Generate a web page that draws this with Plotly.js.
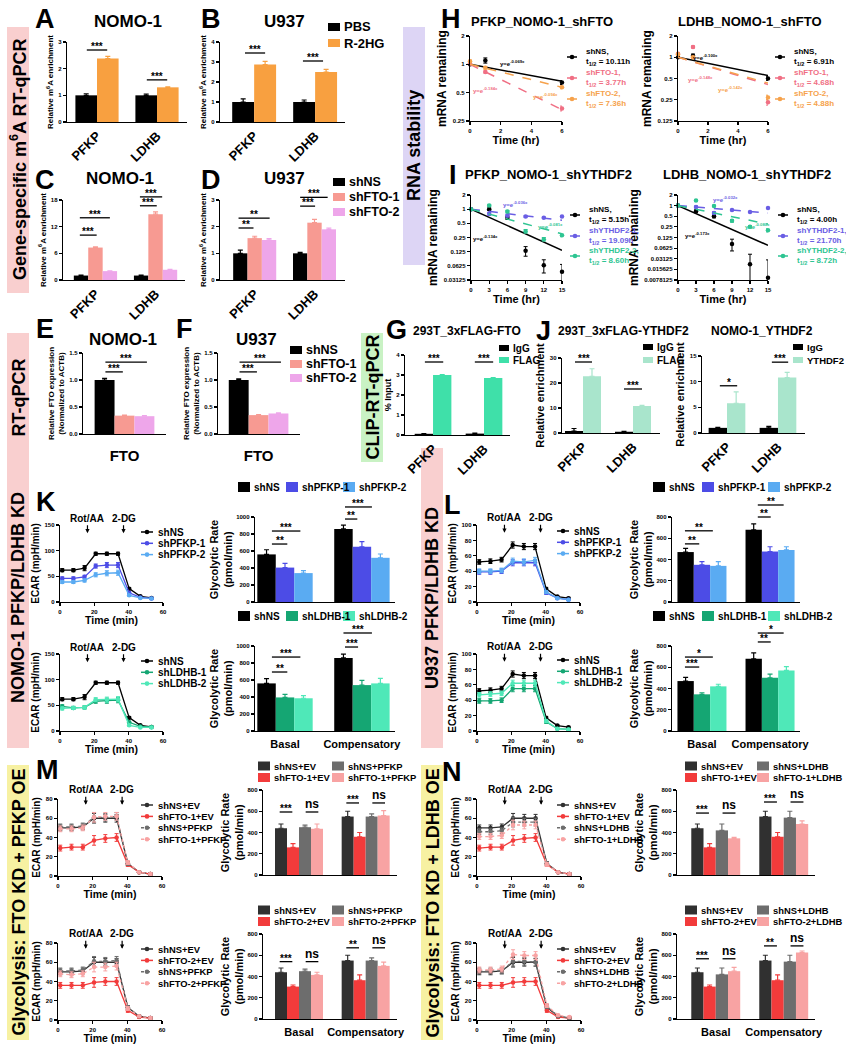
<!DOCTYPE html>
<html>
<head>
<meta charset="utf-8">
<script src="https://cdn.plot.ly/plotly-3.0.1.min.js"></script>
<style>html,body{margin:0;padding:0;background:#fff;}#fig{width:846px;height:1050px;}</style>
</head>
<body>
<div id="fig"></div>
<script>
// ---------- data ----------
// A, B: gene-specific m6A after R-2HG
const geneCats = ["PFKP", "LDHB"];
const aPBS = [1.0, 1.0];
const aPBSErr = [0.06, 0.05];
const aR2HG = [2.38, 1.3];
const aR2HGErr = [0.08, 0.02];
const bPBS = [1.0, 1.0];
const bPBSErr = [0.16, 0.1];
const bR2HG = [2.87, 2.5];
const bR2HGErr = [0.16, 0.13];
// C, D: m6A after FTO knockdown
const cShNS = [1.0, 1.0];
const cShNSErr = [0.1, 0.1];
const cShFTO1 = [7.3, 14.8];
const cShFTO1Err = [0.15, 0.55];
const cShFTO2 = [2.0, 2.3];
const cShFTO2Err = [0.05, 0.08];
const dShNS = [1.0, 1.0];
const dShNSErr = [0.12, 0.04];
const dShFTO1 = [1.57, 2.15];
const dShFTO1Err = [0.07, 0.12];
const dShFTO2 = [1.5, 1.9];
const dShFTO2Err = [0.05, 0.05];
// E, F: FTO expression
const ftoCats = ["FTO"];
const eShNS = [1.0], eShNSErr = [0.03];
const eShFTO1 = [0.34], eShFTO1Err = [0.01];
const eShFTO2 = [0.33], eShFTO2Err = [0.01];
const fShNS = [1.0], fShNSErr = [0.02];
const fShFTO1 = [0.35], fShFTO1Err = [0.01];
const fShFTO2 = [0.38], fShFTO2Err = [0.01];
// G, J: CLIP
const gIgG = [0.06, 0.07], gIgGErr = [0.01, 0.02];
const gFLAG = [3.0, 2.85], gFLAGErr = [0.02, 0.02];
const jIgG = [0.8, 0.5], jIgGErr = [1.0, 0.2];
const jFLAG = [22.7, 10.8], jFLAGErr = [3.0, 0.3];
const j2IgG = [1.0, 1.0], j2IgGErr = [0.1, 0.3];
const j2YTHDF2 = [5.8, 10.8], j2YTHDF2Err = [2.2, 1.0];

// H: RNA stability after shFTO
const hTime = [0, 1, 6];
const hFitTime = [0, 6];
const h1NS = [1.0, 1.1, 0.64], h1NSErr = [0.03, 0.07, 0.03], h1NSFit = [1, 0.66];
const h1FTO1 = [1.02, 0.83, 0.34], h1FTO1Err = [0.03, 0.02, 0.02], h1FTO1Fit = [1, 0.33];
const h1FTO2 = [1.08, 0.92, 0.57], h1FTO2Err = [0.03, 0.03, 0.02], h1FTO2Fit = [1, 0.57];
const h2NS = [1.0, 1.05, 0.5], h2NSErr = [0.02, 0.06, 0.03], h2NSFit = [1, 0.55];
const h2FTO1 = [1.12, 1.4, 0.23], h2FTO1Err = [0.03, 0.05, 0.02], h2FTO1Fit = [1, 0.41];
const h2FTO2 = [1.1, 1.0, 0.27], h2FTO2Err = [0.03, 0.03, 0.02], h2FTO2Fit = [1, 0.43];
const h1Rates = ["-0.069x", "-0.184x", "-0.094x"];
const h2Rates = ["-0.100x", "-0.148x", "-0.142x"];
const h1HalfLives = ["10.11h", "3.77h", "7.36h"];
const h2HalfLives = ["6.91h", "4.68h", "4.88h"];
const shFTONames = ["shNS", "shFTO-1", "shFTO-2"];
// I: RNA stability after shYTHDF2
const iTime = [0, 3, 6, 9, 12, 15];
const iFitTime = [0, 15];
const i1NS = [1.0, 1.0, 0.66, 0.13, 0.064, 0.047], i1NSFit = [1, 0.134];
const i1Y1 = [1.0, 0.8, 0.73, 0.7, 0.66, 0.7], i1Y1Fit = [1, 0.58];
const i1Y2 = [1.0, 1.2, 0.89, 0.34, 0.23, 0.28], i1Y2Fit = [1, 0.3];
const i2NS = [1.0, 0.69, 0.5, 0.082, 0.022, 0.009], i2NSFit = [1, 0.075];
const i2Y1 = [1.0, 0.92, 0.62, 0.75, 0.66, 0.86], i2Y1Fit = [1, 0.62];
const i2Y2 = [1.0, 1.39, 0.98, 0.37, 0.25, 0.2], i2Y2Fit = [1, 0.3];
const iErr = [0.03, 0.06, 0.05, 0.03, 0.02, 0.02];
const i1Rates = ["-0.134x", "-0.036x", "-0.081x"];
const i2Rates = ["-0.173x", "-0.032x", "-0.080x"];
const i1HalfLives = ["5.15h", "19.09h", "8.60h"];
const i2HalfLives = ["4.00h", "21.70h", "8.72h"];
const shYTHNames = ["shNS", "shYTHDF2-1", "shYTHDF2-2"];

// K-N: ECAR traces
const ecarTime = [1.3, 7.8, 14.3, 20.8, 27.3, 33.8, 40.3, 46.8, 53.3];
const injectionLabels = ["Rot/AA", "2-DG"];
const injectionTimes = [16, 37];
const kNS = [62, 62, 66, 94, 94, 94, 26, 11, 8];
const kNSErr = [3, 3, 5, 3, 3, 3, 2, 1, 1];
const kPFKP1 = [46, 46, 49, 70, 72, 72, 18, 9, 7];
const kPFKP2 = [39, 39, 42, 53, 56, 57, 13, 8, 7];
const kLDHB1 = [48, 45, 46, 58, 59, 60, 17, 9, 8];
const kLDHB2 = [44, 45, 46, 61, 61, 62, 11, 7, 7];
const kKdErr = [3, 3, 3, 4, 5, 5, 2, 1, 1];
const lNS = [52, 53, 55, 74, 72, 72, 17, 7, 5];
const lPFKP1 = [39, 39, 40, 51, 51, 51, 12, 5, 3];
const lPFKP2 = [40, 40, 41, 53, 52, 54, 13, 5, 3];
const lLDHB1 = [39, 39, 40, 55, 55, 55, 12, 3, 2];
const lLDHB2 = [47, 48, 49, 62, 62, 62, 13, 3, 2];
const lErr = [3, 3, 3, 4, 4, 4, 2, 1, 1];
const ovNSEV = [50, 50, 51, 60, 60, 60, 13, 4, 2];
const ovFTO1EV = [29, 30, 30, 37, 39, 40, 12, 4, 2];
const ovFTO2EV = [36, 36, 36, 39, 40, 40, 10, 3, 2];
const mNSPFKP = [51, 51, 52, 61, 61, 62, 13, 4, 2];
const mFTO1PFKP = [49, 49, 50, 61, 62, 62, 14, 4, 2];
const mFTO2PFKP = [48, 47, 48, 55, 55, 56, 12, 4, 2];
const nNSLDHB1 = [46, 46, 47, 56, 56, 56, 13, 4, 2];
const nFTO1LDHB = [41, 41, 42, 53, 53, 53, 12, 4, 2];
const nNSLDHB2 = [51, 51, 51, 61, 61, 60, 14, 4, 2];
const nFTO2LDHB = [52, 52, 53, 68, 67, 67, 15, 5, 3];
const ovErr = [3, 3, 3, 5, 4, 4, 2, 1, 1];

// K-N: glycolytic rate bars
const rateCats = ["Basal", "Compensatory"];
const kRateNS = [560, 860], kRateNSErr = [55, 45];
const kRatePFKP1 = [405, 650], kRatePFKP1Err = [50, 60];
const kRatePFKP2 = [340, 520], kRatePFKP2Err = [30, 45];
const kRateLDHB1 = [395, 540], kRateLDHB1Err = [35, 55];
const kRateLDHB2 = [385, 560], kRateLDHB2Err = [30, 60];
const lRateNS = [470, 680], lRateNSErr = [35, 55];
const lRatePFKP1 = [350, 475], lRatePFKP1Err = [30, 45];
const lRatePFKP2 = [340, 490], lRatePFKP2Err = [40, 30];
const lRateLDHB1 = [345, 500], lRateLDHB1Err = [15, 35];
const lRateLDHB2 = [420, 570], lRateLDHB2Err = [20, 35];
const ovRateNSEV = [440, 550], ovRateNSEVErr = [40, 50];
const ovRateFTO1EV = [260, 360], ovRateFTO1EVErr = [35, 40];
const ovRateFTO2EV = [305, 365], ovRateFTO2EVErr = [15, 50];
const mRateNSPFKP = [450, 550], mRateNSPFKPErr = [20, 25];
const mRateFTO1PFKP = [435, 560], mRateFTO1PFKPErr = [45, 45];
const mRateFTO2PFKP = [415, 500], mRateFTO2PFKPErr = [25, 35];
const nRateNSLDHB = [420, 540], nRateNSLDHBErr = [60, 60];
const nRateFTO1LDHB = [345, 480], nRateFTO1LDHBErr = [10, 30];
const nRateFTO2LDHB = [450, 625], nRateFTO2LDHBErr = [35, 15];

// significance marks: [from, to (category units), height, label]
const aSig = [[-0.17, 0.17, 2.7, "***"], [0.83, 1.17, 1.58, "***"]];
const bSig = [[-0.15, 0.18, 3.45, "***"], [0.8, 1.13, 3.05, "***"]];
const cSig = [[-0.26, 0.02, 10.1, "***"], [-0.26, 0.24, 14.0, "***"], [0.74, 1.02, 16.7, "***"], [0.74, 1.11, 18.7, "***"]];
const dSig = [[-0.27, -0.02, 1.95, "**"], [-0.27, 0.25, 2.32, "**"], [0.76, 1.01, 2.77, "***"], [0.76, 1.22, 3.1, "***"]];
const eSig = [[-0.23, -0.02, 1.15, "***"], [-0.23, 0.27, 1.33, "***"]];
const gSig = [[-0.16, 0.2, 3.65, "***"], [0.82, 1.18, 3.65, "***"]];
const jSig = [[-0.16, 0.18, 28.4, "***"], [0.82, 1.18, 17.6, "***"]];
const j2Sig = [[-0.14, 0.2, 9.2, "*"], [0.88, 1.2, 13.8, "***"]];
const kSigP = [[-0.17, 0.03, 682, "**"], [-0.17, 0.2, 835, "***"], [0.78, 0.94, 976, "**"], [0.78, 1.13, 1118, "***"]];
const kSigL = [[-0.17, 0.03, 694, "**"], [-0.17, 0.2, 870, "***"], [0.78, 0.95, 988, "***"], [0.76, 1.13, 1153, "***"]];
const lSigP = [[-0.25, -0.04, 547, "**"], [-0.25, 0.16, 670, "**"], [0.82, 1.01, 800, "**"], [0.82, 1.2, 913, "**"]];
const lSigL = [[-0.25, -0.04, 602, "***"], [-0.25, 0.16, 696, "*"], [0.82, 1.01, 838, "**"], [0.82, 1.2, 922, "*"]];
const m1Sig = [[-0.29, -0.1, 593, "***"], [0.1, 0.29, 593, "ns"], [0.71, 0.9, 678, "***"], [1.1, 1.29, 678, "ns"]];
const m2Sig = [[-0.29, -0.1, 540, "***"], [0.1, 0.29, 540, "ns"], [0.71, 0.9, 670, "**"], [1.1, 1.29, 670, "ns"]];
const n1Sig = [[-0.29, -0.1, 583, "***"], [0.1, 0.29, 583, "ns"], [0.71, 0.9, 687, "***"], [1.1, 1.29, 687, "ns"]];
const n2Sig = [[-0.29, -0.1, 567, "***"], [0.1, 0.29, 567, "ns"], [0.71, 0.9, 688, "**"], [1.1, 1.29, 688, "ns"]];

// ---------- helpers ----------
const FONT = "Liberation Sans, Arial, sans-serif";
const FIG_W = 846, FIG_H = 1050;
const PX = (x) => x / FIG_W;
const PY = (y) => 1 - y / FIG_H;
const f = (size, color = "#000") => ({ family: FONT, size, color, weight: "bold" });
const KEY = 9.4; // legend text size in K-N

const COL = {
  black: "#000000", orange: "#f8a040", salmon: "#f79a92", lilac: "#eea6ea",
  mint: "#3fe0a9", paleMint: "#a9e5cc", hPink: "#f06f84", hOrange: "#f6a24c",
  violet: "#6a5ee4", teal: "#2ec592", indigo: "#4c4ce6", sky: "#5aabf2",
  green: "#15a673", aqua: "#4fe8b8", dark: "#303030", red: "#f23b3b",
  gray: "#6d6d6d", rose: "#f8a3a3",
};

const traces = [];
const shapes = [];
const annotations = [];
const layout = {
  width: FIG_W, height: FIG_H,
  margin: { l: 0, r: 0, t: 0, b: 0 },
  paper_bgcolor: "#fff", plot_bgcolor: "rgba(0,0,0,0)",
  showlegend: false, barmode: "group", bargap: 0.28, bargroupgap: 0,
  font: { family: FONT, color: "#000" },
  shapes, annotations,
};

let axisCount = 0;
function baseAxis() {
  return {
    showline: true, linecolor: "#000", linewidth: 1.3, ticks: "outside", ticklen: 3,
    tickwidth: 1.1, tickcolor: "#000", showgrid: false, zeroline: false,
    tickfont: f(6), fixedrange: true,
  };
}
function addAxes(box, xo, yo) {
  axisCount += 1;
  const id = axisCount === 1 ? "" : String(axisCount);
  const [l, t, r, b] = box;
  layout["xaxis" + id] = Object.assign(baseAxis(), { domain: [PX(l), PX(r)], anchor: "y" + id }, xo);
  layout["yaxis" + id] = Object.assign(baseAxis(), { domain: [PY(b), PY(t)], anchor: "x" + id }, yo);
  return { xa: "x" + id, ya: "y" + id };
}

function txt(x, y, text, size, opt = {}) {
  annotations.push({
    xref: "paper", yref: "paper", x: PX(x), y: PY(y), text, showarrow: false,
    xanchor: opt.xa || "center", yanchor: opt.ya || "middle", align: opt.align || "left",
    textangle: opt.angle || 0, font: f(size, opt.color || "#000"),
  });
}
function sideLabel(x0, y0, x1, y1, fill, text) {
  shapes.push({ type: "rect", xref: "paper", yref: "paper", x0: PX(x0), x1: PX(x1), y0: PY(y1), y1: PY(y0), fillcolor: fill, line: { width: 0 }, layer: "below" });
  txt((x0 + x1) / 2, (y0 + y1) / 2, text, 18, { angle: -90 });
}
function squareKey(x, y, color, label, size, w = 12, h = 9) {
  shapes.push({ type: "rect", xref: "paper", yref: "paper", x0: PX(x), x1: PX(x + w), y0: PY(y + h / 2), y1: PY(y - h / 2), fillcolor: color, line: { width: 0 } });
  txt(x + w + 2, y, label, size, { xa: "left" });
}
function lineKey(x, y, color, dash, w = 12) {
  shapes.push({ type: "line", xref: "paper", yref: "paper", x0: PX(x), x1: PX(x + w), y0: PY(y), y1: PY(y), line: { color, width: 1.5, dash: dash || "solid" } });
  const cx = x + w / 2, r = 2.3;
  shapes.push({ type: "circle", xref: "paper", yref: "paper", x0: PX(cx - r), x1: PX(cx + r), y0: PY(y + r), y1: PY(y - r), fillcolor: color, line: { width: 0 } });
}
function sigMark(xa, ya, ymax, [a, b, v, label]) {
  const yf = v / ymax;
  shapes.push({ type: "line", xref: xa, yref: ya + " domain", x0: a, x1: b, y0: yf, y1: yf, line: { color: "#000", width: 1.3 } });
  annotations.push({
    xref: xa, yref: ya + " domain", x: (a + b) / 2, y: yf, text: label, showarrow: false,
    xanchor: "center", yanchor: "bottom", yshift: label === "ns" ? -1 : -4, font: f(label === "ns" ? 12 : 10),
  });
}

function barPanel(box, cats, series, o) {
  const { xa, ya } = addAxes(box,
    { type: "category", range: o.xr, ticks: "", showticklabels: o.showCats !== false,
      tickangle: o.angle ?? -45, tickfont: f(o.catSize ?? 13), ticklabelstandoff: o.catGap ?? 0 },
    { range: [0, o.ymax], tickvals: o.yt, tickformat: o.yfmt || "", tickfont: f(o.tickSize ?? 6),
      title: { text: o.ytitle, font: f(o.ytSize ?? 8), standoff: o.standoff ?? 3 } });
  series.forEach((s) => {
    traces.push({
      type: "bar", x: cats, y: s.y, xaxis: xa, yaxis: ya,
      marker: { color: s.color, line: { width: 0 } },
      error_y: { type: "data", symmetric: false, array: s.e, arrayminus: s.e.map(() => 0), color: s.color, thickness: 1.2, width: 2.5 },
    });
  });
  (o.sig || []).forEach((s) => sigMark(xa, ya, o.ymax, s));
}

function ecarPanel(box, series, o) {
  const { xa, ya } = addAxes(box,
    { range: [0, 60], tickvals: [0, 20, 40, 60], title: { text: "Time (min)", font: f(10.5), standoff: 3 } },
    { range: [0, o.ymax], tickvals: o.yt, title: { text: "ECAR (mpH/min)", font: f(10), standoff: 3 } });
  series.forEach((s) => {
    traces.push({
      type: "scatter", mode: "lines+markers", x: ecarTime, y: s.y, xaxis: xa, yaxis: ya, cliponaxis: false,
      line: { color: s.color, width: 1.3, dash: s.dash || "solid" },
      marker: { color: s.color, size: 4.5 },
      error_y: { type: "data", array: s.e, color: s.color, thickness: 1, width: 2 },
    });
  });
  injectionLabels.forEach((label, i) => {
    annotations.push({
      xref: xa, yref: ya, x: injectionTimes[i], y: o.arrowY, ax: 0, ay: -15, text: label,
      showarrow: true, arrowhead: 2, arrowsize: 0.7, arrowwidth: 1.2, arrowcolor: "#000", standoff: 0, font: f(10),
    });
  });
}

function decayPanel(box, o) {
  const { xa, ya } = addAxes(box,
    { range: [0, o.tmax], tickvals: o.xt, title: { text: "Time (hr)", font: f(11), standoff: 3 } },
    { type: "log", range: [Math.log10(o.ymin), Math.log10(2)], tickvals: o.yt, ticktext: o.yt.map(String),
      title: { text: "mRNA remaining", font: f(12), standoff: 3 } });
  o.series.forEach((s) => {
    traces.push({
      type: "scatter", mode: "lines", x: o.fitT, y: s.fit, xaxis: xa, yaxis: ya,
      line: { color: s.color, width: 1.5, dash: s.dash || "solid" },
    });
    traces.push({
      type: "scatter", mode: "markers", x: o.t, y: s.y, xaxis: xa, yaxis: ya, cliponaxis: false,
      marker: { color: s.color, size: 4.5 },
      error_y: { type: "data", array: s.e, color: s.color, thickness: 1, width: 2 },
    });
  });
}
function decayKeys(x, ys, names, halfs, colors) {
  names.forEach((n, i) => {
    lineKey(x, ys[i], colors[i], "solid", 10);
    txt(x + 17, ys[i], n + ",<br>t<sub>1/2</sub> = " + halfs[i], 8, { xa: "left", color: i === 0 ? "#000" : colors[i] });
  });
}
function rateLabels(pos, rates, colors) {
  rates.forEach((r, i) => txt(pos[i][0], pos[i][1], "y=e<sup>" + r + "</sup>", 6, { color: colors[i] }));
}

// ---------- side labels ----------
sideLabel(7, 27, 29, 293, "#f9cfcf", "Gene-specific m<sup>6</sup>A RT-qPCR");
sideLabel(7, 333, 29, 462, "#f9cfcf", "RT-qPCR");
sideLabel(403, 27, 425, 265, "#ddd5f5", "RNA stability");
sideLabel(361, 333, 383, 462, "#c9f2c4", "CLIP-RT-qPCR");
sideLabel(7, 448, 29, 748, "#f9cfcf", "NOMO-1 PFKP/LDHB KD");
sideLabel(421, 448, 443, 748, "#f9cfcf", "U937 PFKP/LDHB KD");
sideLabel(7, 765, 29, 1040, "#f7f1a2", "Glycolysis: FTO KD + PFKP OE");
sideLabel(421, 765, 443, 1040, "#f7f1a2", "Glycolysis: FTO KD + LDHB OE");

// ---------- panel letters & titles ----------
[["A", 45, 19], ["B", 211, 19], ["C", 45, 180], ["D", 211, 180], ["E", 45, 329], ["F", 184, 329],
 ["G", 396, 330], ["H", 451, 19], ["I", 453, 175], ["J", 543, 331], ["K", 46, 502], ["L", 452, 505],
 ["M", 47, 770], ["N", 452, 772]].forEach(([t, x, y]) => txt(x, y, t, 27));
txt(128, 22, "NOMO-1", 17); txt(284, 22, "U937", 17);
txt(120, 179, "NOMO-1", 17); txt(284, 179, "U937", 17);
txt(123, 340, "NOMO-1", 17); txt(256, 340, "U937", 17);
txt(411, 331, "293T_3xFLAG-FTO", 12, { xa: "left" });
txt(556, 331, "293T_3xFLAG-YTHDF2", 12, { xa: "left" });
txt(709, 331, "NOMO-1_YTHDF2", 12, { xa: "left" });
txt(469, 21, "PFKP_NOMO-1_shFTO", 13, { xa: "left" });
txt(676, 21, "LDHB_NOMO-1_shFTO", 13, { xa: "left" });
txt(463, 175, "PFKP_NOMO-1_shYTHDF2", 13, { xa: "left" });
txt(661, 175, "LDHB_NOMO-1_shYTHDF2", 13, { xa: "left" });

// ---------- A-G, J ----------
const m6aTitle = "Relative m<sup>6</sup>A enrichment";
barPanel([67, 42, 187, 122], geneCats,
  [{ y: aPBS, e: aPBSErr, color: COL.black }, { y: aR2HG, e: aR2HGErr, color: COL.orange }],
  { xr: [-0.5, 1.5], ymax: 3, yt: [0, 1, 2, 3], ytitle: m6aTitle, sig: aSig });
barPanel([220, 42, 345, 122], geneCats,
  [{ y: bPBS, e: bPBSErr, color: COL.black }, { y: bR2HG, e: bR2HGErr, color: COL.orange }],
  { xr: [-0.56, 1.49], ymax: 4, yt: [0, 1, 2, 3, 4], ytitle: m6aTitle, sig: bSig });
squareKey(328, 27, COL.black, "PBS", 13, 12, 8);
squareKey(328, 43, COL.orange, "R-2HG", 13, 12, 8);

barPanel([63, 200, 185, 280], geneCats,
  [{ y: cShNS, e: cShNSErr, color: COL.black }, { y: cShFTO1, e: cShFTO1Err, color: COL.salmon }, { y: cShFTO2, e: cShFTO2Err, color: COL.lilac }],
  { xr: [-0.54, 1.49], ymax: 18, yt: [0, 6, 12, 18], ytitle: m6aTitle, sig: cSig });
barPanel([220, 200, 345, 280], geneCats,
  [{ y: dShNS, e: dShNSErr, color: COL.black }, { y: dShFTO1, e: dShFTO1Err, color: COL.salmon }, { y: dShFTO2, e: dShFTO2Err, color: COL.lilac }],
  { xr: [-0.58, 1.51], ymax: 3, yt: [0, 1, 2, 3], ytitle: m6aTitle, sig: dSig });
squareKey(333, 182, COL.black, "shNS", 12.5, 12, 8);
squareKey(333, 197, COL.salmon, "shFTO-1", 12.5, 12, 8);
squareKey(333, 212, COL.lilac, "shFTO-2", 12.5, 12, 8);

const ftoTitle = "Relative FTO expression<br>(Normalized to ACTB)";
barPanel([83, 353, 166, 434], ftoCats,
  [{ y: eShNS, e: eShNSErr, color: COL.black }, { y: eShFTO1, e: eShFTO1Err, color: COL.salmon }, { y: eShFTO2, e: eShFTO2Err, color: COL.lilac }],
  { xr: [-0.5, 0.5], ymax: 1.5, yt: [0, 0.5, 1, 1.5], yfmt: ".1f", angle: 0, catSize: 15, catGap: 8, ytitle: ftoTitle, sig: eSig });
barPanel([218, 353, 300, 434], ftoCats,
  [{ y: fShNS, e: fShNSErr, color: COL.black }, { y: fShFTO1, e: fShFTO1Err, color: COL.salmon }, { y: fShFTO2, e: fShFTO2Err, color: COL.lilac }],
  { xr: [-0.49, 0.5], ymax: 1.5, yt: [0, 0.5, 1, 1.5], yfmt: ".1f", angle: 0, catSize: 15, catGap: 8, ytitle: ftoTitle, sig: eSig });
squareKey(290, 350, COL.black, "shNS", 12.5, 12, 8);
squareKey(290, 364, COL.salmon, "shFTO-1", 12.5, 12, 8);
squareKey(290, 378, COL.lilac, "shFTO-2", 12.5, 12, 8);

barPanel([405, 355, 510, 435], geneCats,
  [{ y: gIgG, e: gIgGErr, color: COL.black }, { y: gFLAG, e: gFLAGErr, color: COL.mint }],
  { xr: [-0.55, 1.51], ymax: 4, yt: [0, 1, 2, 3, 4], ytitle: "% Input", ytSize: 9, sig: gSig });
squareKey(499, 348, COL.black, "IgG", 10, 10, 6);
squareKey(499, 360, COL.mint, "FLAG", 10, 10, 6);
barPanel([562, 358, 660, 433], geneCats,
  [{ y: jIgG, e: jIgGErr, color: COL.black }, { y: jFLAG, e: jFLAGErr, color: COL.paleMint }],
  { xr: [-0.42, 1.54], ymax: 30, yt: [0, 10, 20, 30], ytitle: "Relative enrichment", ytSize: 11, sig: jSig });
squareKey(643, 347, COL.black, "IgG", 10, 10, 6);
squareKey(643, 360, COL.paleMint, "FLAG", 10, 10, 6);
barPanel([702, 356, 805, 433], geneCats,
  [{ y: j2IgG, e: j2IgGErr, color: COL.black }, { y: j2YTHDF2, e: j2YTHDF2Err, color: COL.paleMint }],
  { xr: [-0.49, 1.53], ymax: 15, yt: [0, 5, 10, 15], ytitle: "Relative enrichment", ytSize: 11, sig: j2Sig });
squareKey(793, 347, COL.black, "IgG", 9.5, 10, 6);
squareKey(793, 360, COL.paleMint, "YTHDF2", 9.5, 10, 6);

// ---------- H, I ----------
const hColors = [COL.black, COL.hPink, COL.hOrange];
decayPanel([470, 36, 562, 121], {
  t: hTime, fitT: hFitTime, tmax: 6, xt: [0, 2, 4, 6], ymin: 0.25, yt: [0.25, 0.5, 1, 2],
  series: [
    { y: h1NS, e: h1NSErr, fit: h1NSFit, color: hColors[0] },
    { y: h1FTO1, e: h1FTO1Err, fit: h1FTO1Fit, color: hColors[1], dash: "dash" },
    { y: h1FTO2, e: h1FTO2Err, fit: h1FTO2Fit, color: hColors[2], dash: "dash" }],
});
decayKeys(567, [57, 78, 99], shFTONames, h1HalfLives, hColors);
rateLabels([[512, 63], [485, 90], [545, 96]], h1Rates, hColors);
decayPanel([678, 36, 768, 121], {
  t: hTime, fitT: hFitTime, tmax: 6, xt: [0, 2, 4, 6], ymin: 0.125, yt: [0.125, 0.25, 0.5, 1, 2],
  series: [
    { y: h2NS, e: h2NSErr, fit: h2NSFit, color: hColors[0] },
    { y: h2FTO1, e: h2FTO1Err, fit: h2FTO1Fit, color: hColors[1], dash: "dash" },
    { y: h2FTO2, e: h2FTO2Err, fit: h2FTO2Fit, color: hColors[2], dash: "dash" }],
});
decayKeys(775, [57, 78, 99], shFTONames, h2HalfLives, hColors);
rateLabels([[705, 57], [700, 79], [730, 89]], h2Rates, hColors);

const iColors = [COL.black, COL.violet, COL.teal];
decayPanel([471, 195, 562, 280], {
  t: iTime, fitT: iFitTime, tmax: 15, xt: [0, 3, 6, 9, 12, 15], ymin: 0.03125,
  yt: [0.03125, 0.0625, 0.125, 0.25, 0.5, 1, 2],
  series: [
    { y: i1NS, e: iErr, fit: i1NSFit, color: iColors[0] },
    { y: i1Y1, e: iErr, fit: i1Y1Fit, color: iColors[1], dash: "dash" },
    { y: i1Y2, e: iErr, fit: i1Y2Fit, color: iColors[2], dash: "dash" }],
});
decayKeys(570, [215, 236, 256], shYTHNames, i1HalfLives, iColors);
rateLabels([[485, 238], [515, 204], [550, 226]], i1Rates, iColors);
decayPanel([678, 195, 768, 280], {
  t: iTime, fitT: iFitTime, tmax: 15, xt: [0, 3, 6, 9, 12, 15], ymin: 0.0078125,
  yt: [0.0078125, 0.015625, 0.03125, 0.0625, 0.125, 0.25, 0.5, 1, 2],
  series: [
    { y: i2NS, e: iErr, fit: i2NSFit, color: iColors[0] },
    { y: i2Y1, e: iErr, fit: i2Y1Fit, color: iColors[1], dash: "dash" },
    { y: i2Y2, e: iErr, fit: i2Y2Fit, color: iColors[2], dash: "dash" }],
});
decayKeys(778, [215, 236, 256], shYTHNames, i2HalfLives, iColors);
rateLabels([[697, 235], [725, 199], [757, 226]], i2Rates, iColors);

// ---------- K, L ----------
const rateTitle = "Glycolytic Rate<br>(pmol/min)";
function kdBlock(xLine, xBar, xBarEnd, yTop, oL, rows) {
  rows.forEach((row, r) => {
    const dy = r * 129;
    ecarPanel([xLine, yTop[0] + dy, xLine + 103, 602 + dy], row.lines, { ymax: oL.ymax, yt: oL.yt, arrowY: oL.arrowY });
    row.lines.forEach((s, i) => {
      lineKey(row.keyX, row.keyY + dy + i * 11.3, s.color, "solid");
      txt(row.keyX + 15, row.keyY + dy + i * 11.3, s.name, KEY + 0.6, { xa: "left" });
    });
    barPanel([xBar, yTop[1] + dy, xBarEnd, 602 + dy], rateCats, row.bars,
      { xr: row.xr, ymax: row.ymax, yt: row.yt, angle: 0, catSize: 11, catGap: 2, showCats: r === 1, tickSize: 6,
        ytitle: rateTitle, ytSize: 11, standoff: 1, sig: row.sig });
    row.bars.forEach((s, i) => squareKey(row.legX[i], 487 + dy, s.color, s.name, KEY + 0.6, 12, 10));
  });
}
kdBlock(60, 255, 395, [525, 517], { ymax: 150, yt: [0, 50, 100, 150], arrowY: 134 }, [
  { keyX: 141, keyY: 532, xr: [-0.39, 1.43], ymax: 1000, yt: [0, 200, 400, 600, 800, 1000], sig: kSigP,
    legX: [238, 286, 343],
    lines: [{ y: kNS, e: kNSErr, color: COL.black, name: "shNS" }, { y: kPFKP1, e: kKdErr, color: COL.indigo, name: "shPFKP-1" }, { y: kPFKP2, e: kKdErr, color: COL.sky, name: "shPFKP-2" }],
    bars: [{ y: kRateNS, e: kRateNSErr, color: COL.black, name: "shNS" }, { y: kRatePFKP1, e: kRatePFKP1Err, color: COL.indigo, name: "shPFKP-1" }, { y: kRatePFKP2, e: kRatePFKP2Err, color: COL.sky, name: "shPFKP-2" }] },
  { keyX: 141, keyY: 532, xr: [-0.39, 1.43], ymax: 1000, yt: [0, 200, 400, 600, 800, 1000], sig: kSigL,
    legX: [238, 286, 343],
    lines: [{ y: kNS, e: kNSErr, color: COL.black, name: "shNS" }, { y: kLDHB1, e: kKdErr, color: COL.green, name: "shLDHB-1" }, { y: kLDHB2, e: kKdErr, color: COL.aqua, name: "shLDHB-2" }],
    bars: [{ y: kRateNS, e: kRateNSErr, color: COL.black, name: "shNS" }, { y: kRateLDHB1, e: kRateLDHB1Err, color: COL.green, name: "shLDHB-1" }, { y: kRateLDHB2, e: kRateLDHB2Err, color: COL.aqua, name: "shLDHB-2" }] },
]);
kdBlock(477, 672, 800, [525, 517], { ymax: 100, yt: [0, 20, 40, 60, 80, 100], arrowY: 90 }, [
  { keyX: 557, keyY: 531, xr: [-0.44, 1.44], ymax: 800, yt: [0, 200, 400, 600, 800], sig: lSigP,
    legX: [653, 702, 768],
    lines: [{ y: lNS, e: lErr, color: COL.black, name: "shNS" }, { y: lPFKP1, e: lErr, color: COL.indigo, name: "shPFKP-1" }, { y: lPFKP2, e: lErr, color: COL.sky, name: "shPFKP-2" }],
    bars: [{ y: lRateNS, e: lRateNSErr, color: COL.black, name: "shNS" }, { y: lRatePFKP1, e: lRatePFKP1Err, color: COL.indigo, name: "shPFKP-1" }, { y: lRatePFKP2, e: lRatePFKP2Err, color: COL.sky, name: "shPFKP-2" }] },
  { keyX: 557, keyY: 531, xr: [-0.44, 1.44], ymax: 800, yt: [0, 200, 400, 600, 800], sig: lSigL,
    legX: [653, 702, 768],
    lines: [{ y: lNS, e: lErr, color: COL.black, name: "shNS" }, { y: lLDHB1, e: lErr, color: COL.green, name: "shLDHB-1" }, { y: lLDHB2, e: lErr, color: COL.aqua, name: "shLDHB-2" }],
    bars: [{ y: lRateNS, e: lRateNSErr, color: COL.black, name: "shNS" }, { y: lRateLDHB1, e: lRateLDHB1Err, color: COL.green, name: "shLDHB-1" }, { y: lRateLDHB2, e: lRateLDHB2Err, color: COL.aqua, name: "shLDHB-2" }] },
]);

// ---------- M, N ----------
function oeBlock(xLine, xBar, xBarEnd, xr, legX, keyX, rows) {
  rows.forEach((row, r) => {
    const dy = r * 144;
    ecarPanel([xLine, 799 + dy, xLine + 104, 876 + dy], row.lines, { ymax: 80, yt: [0, 20, 40, 60, 80], arrowY: 74 });
    row.lines.forEach((s, i) => {
      lineKey(keyX, 805 + dy + i * 11.4, s.color, s.dash);
      txt(keyX + 15, 805 + dy + i * 11.4, s.name, KEY, { xa: "left" });
    });
    barPanel([xBar, 790 + dy, xBarEnd, 875 + dy], rateCats, row.bars,
      { xr, ymax: 800, yt: [0, 200, 400, 600, 800], angle: 0, catSize: 11, catGap: 2, showCats: r === 1, tickSize: 6,
        ytitle: rateTitle, ytSize: 11, standoff: 1, sig: row.sig });
    [0, 2, 1, 3].forEach((k, i) => {
      const s = row.bars[k];
      squareKey(legX[i % 2], 766 + dy + Math.floor(i / 2) * 11.5, s.color, s.name, KEY, 12, 9);
    });
  });
}
oeBlock(58, 263, 397, [-0.54, 1.47], [258, 332], 141, [
  { sig: m1Sig,
    lines: [{ y: ovNSEV, e: ovErr, color: COL.dark, name: "shNS+EV" }, { y: ovFTO1EV, e: ovErr, color: COL.red, name: "shFTO-1+EV" },
      { y: mNSPFKP, e: ovErr, color: COL.gray, dash: "dot", name: "shNS+PFKP" }, { y: mFTO1PFKP, e: ovErr, color: COL.rose, dash: "dot", name: "shFTO-1+PFKP" }],
    bars: [{ y: ovRateNSEV, e: ovRateNSEVErr, color: COL.dark, name: "shNS+EV" }, { y: ovRateFTO1EV, e: ovRateFTO1EVErr, color: COL.red, name: "shFTO-1+EV" },
      { y: mRateNSPFKP, e: mRateNSPFKPErr, color: COL.gray, name: "shNS+PFKP" }, { y: mRateFTO1PFKP, e: mRateFTO1PFKPErr, color: COL.rose, name: "shFTO-1+PFKP" }] },
  { sig: m2Sig,
    lines: [{ y: ovNSEV, e: ovErr, color: COL.dark, name: "shNS+EV" }, { y: ovFTO2EV, e: ovErr, color: COL.red, name: "shFTO-2+EV" },
      { y: mNSPFKP, e: ovErr, color: COL.gray, dash: "dot", name: "shNS+PFKP" }, { y: mFTO2PFKP, e: ovErr, color: COL.rose, dash: "dot", name: "shFTO-2+PFKP" }],
    bars: [{ y: ovRateNSEV, e: ovRateNSEVErr, color: COL.dark, name: "shNS+EV" }, { y: ovRateFTO2EV, e: ovRateFTO2EVErr, color: COL.red, name: "shFTO-2+EV" },
      { y: mRateNSPFKP, e: mRateNSPFKPErr, color: COL.gray, name: "shNS+PFKP" }, { y: mRateFTO2PFKP, e: mRateFTO2PFKPErr, color: COL.rose, name: "shFTO-2+PFKP" }] },
]);
oeBlock(477, 677, 815, [-0.57, 1.46], [685, 757], 557, [
  { sig: n1Sig,
    lines: [{ y: ovNSEV, e: ovErr, color: COL.dark, name: "shNS+EV" }, { y: ovFTO1EV, e: ovErr, color: COL.red, name: "shFTO-1+EV" },
      { y: nNSLDHB1, e: ovErr, color: COL.gray, dash: "dot", name: "shNS+LDHB" }, { y: nFTO1LDHB, e: ovErr, color: COL.rose, dash: "dot", name: "shFTO-1+LDHB" }],
    bars: [{ y: ovRateNSEV, e: ovRateNSEVErr, color: COL.dark, name: "shNS+EV" }, { y: ovRateFTO1EV, e: ovRateFTO1EVErr, color: COL.red, name: "shFTO-1+EV" },
      { y: nRateNSLDHB, e: nRateNSLDHBErr, color: COL.gray, name: "shNS+LDHB" }, { y: nRateFTO1LDHB, e: nRateFTO1LDHBErr, color: COL.rose, name: "shFTO-1+LDHB" }] },
  { sig: n2Sig,
    lines: [{ y: ovNSEV, e: ovErr, color: COL.dark, name: "shNS+EV" }, { y: ovFTO2EV, e: ovErr, color: COL.red, name: "shFTO-2+EV" },
      { y: nNSLDHB2, e: ovErr, color: COL.gray, dash: "dot", name: "shNS+LDHB" }, { y: nFTO2LDHB, e: ovErr, color: COL.rose, dash: "dot", name: "shFTO-2+LDHB" }],
    bars: [{ y: ovRateNSEV, e: ovRateNSEVErr, color: COL.dark, name: "shNS+EV" }, { y: ovRateFTO2EV, e: ovRateFTO2EVErr, color: COL.red, name: "shFTO-2+EV" },
      { y: nRateNSLDHB, e: nRateNSLDHBErr, color: COL.gray, name: "shNS+LDHB" }, { y: nRateFTO2LDHB, e: nRateFTO2LDHBErr, color: COL.rose, name: "shFTO-2+LDHB" }] },
]);

Plotly.newPlot("fig", traces, layout, { displayModeBar: false, staticPlot: true });
</script>
</body>
</html>
